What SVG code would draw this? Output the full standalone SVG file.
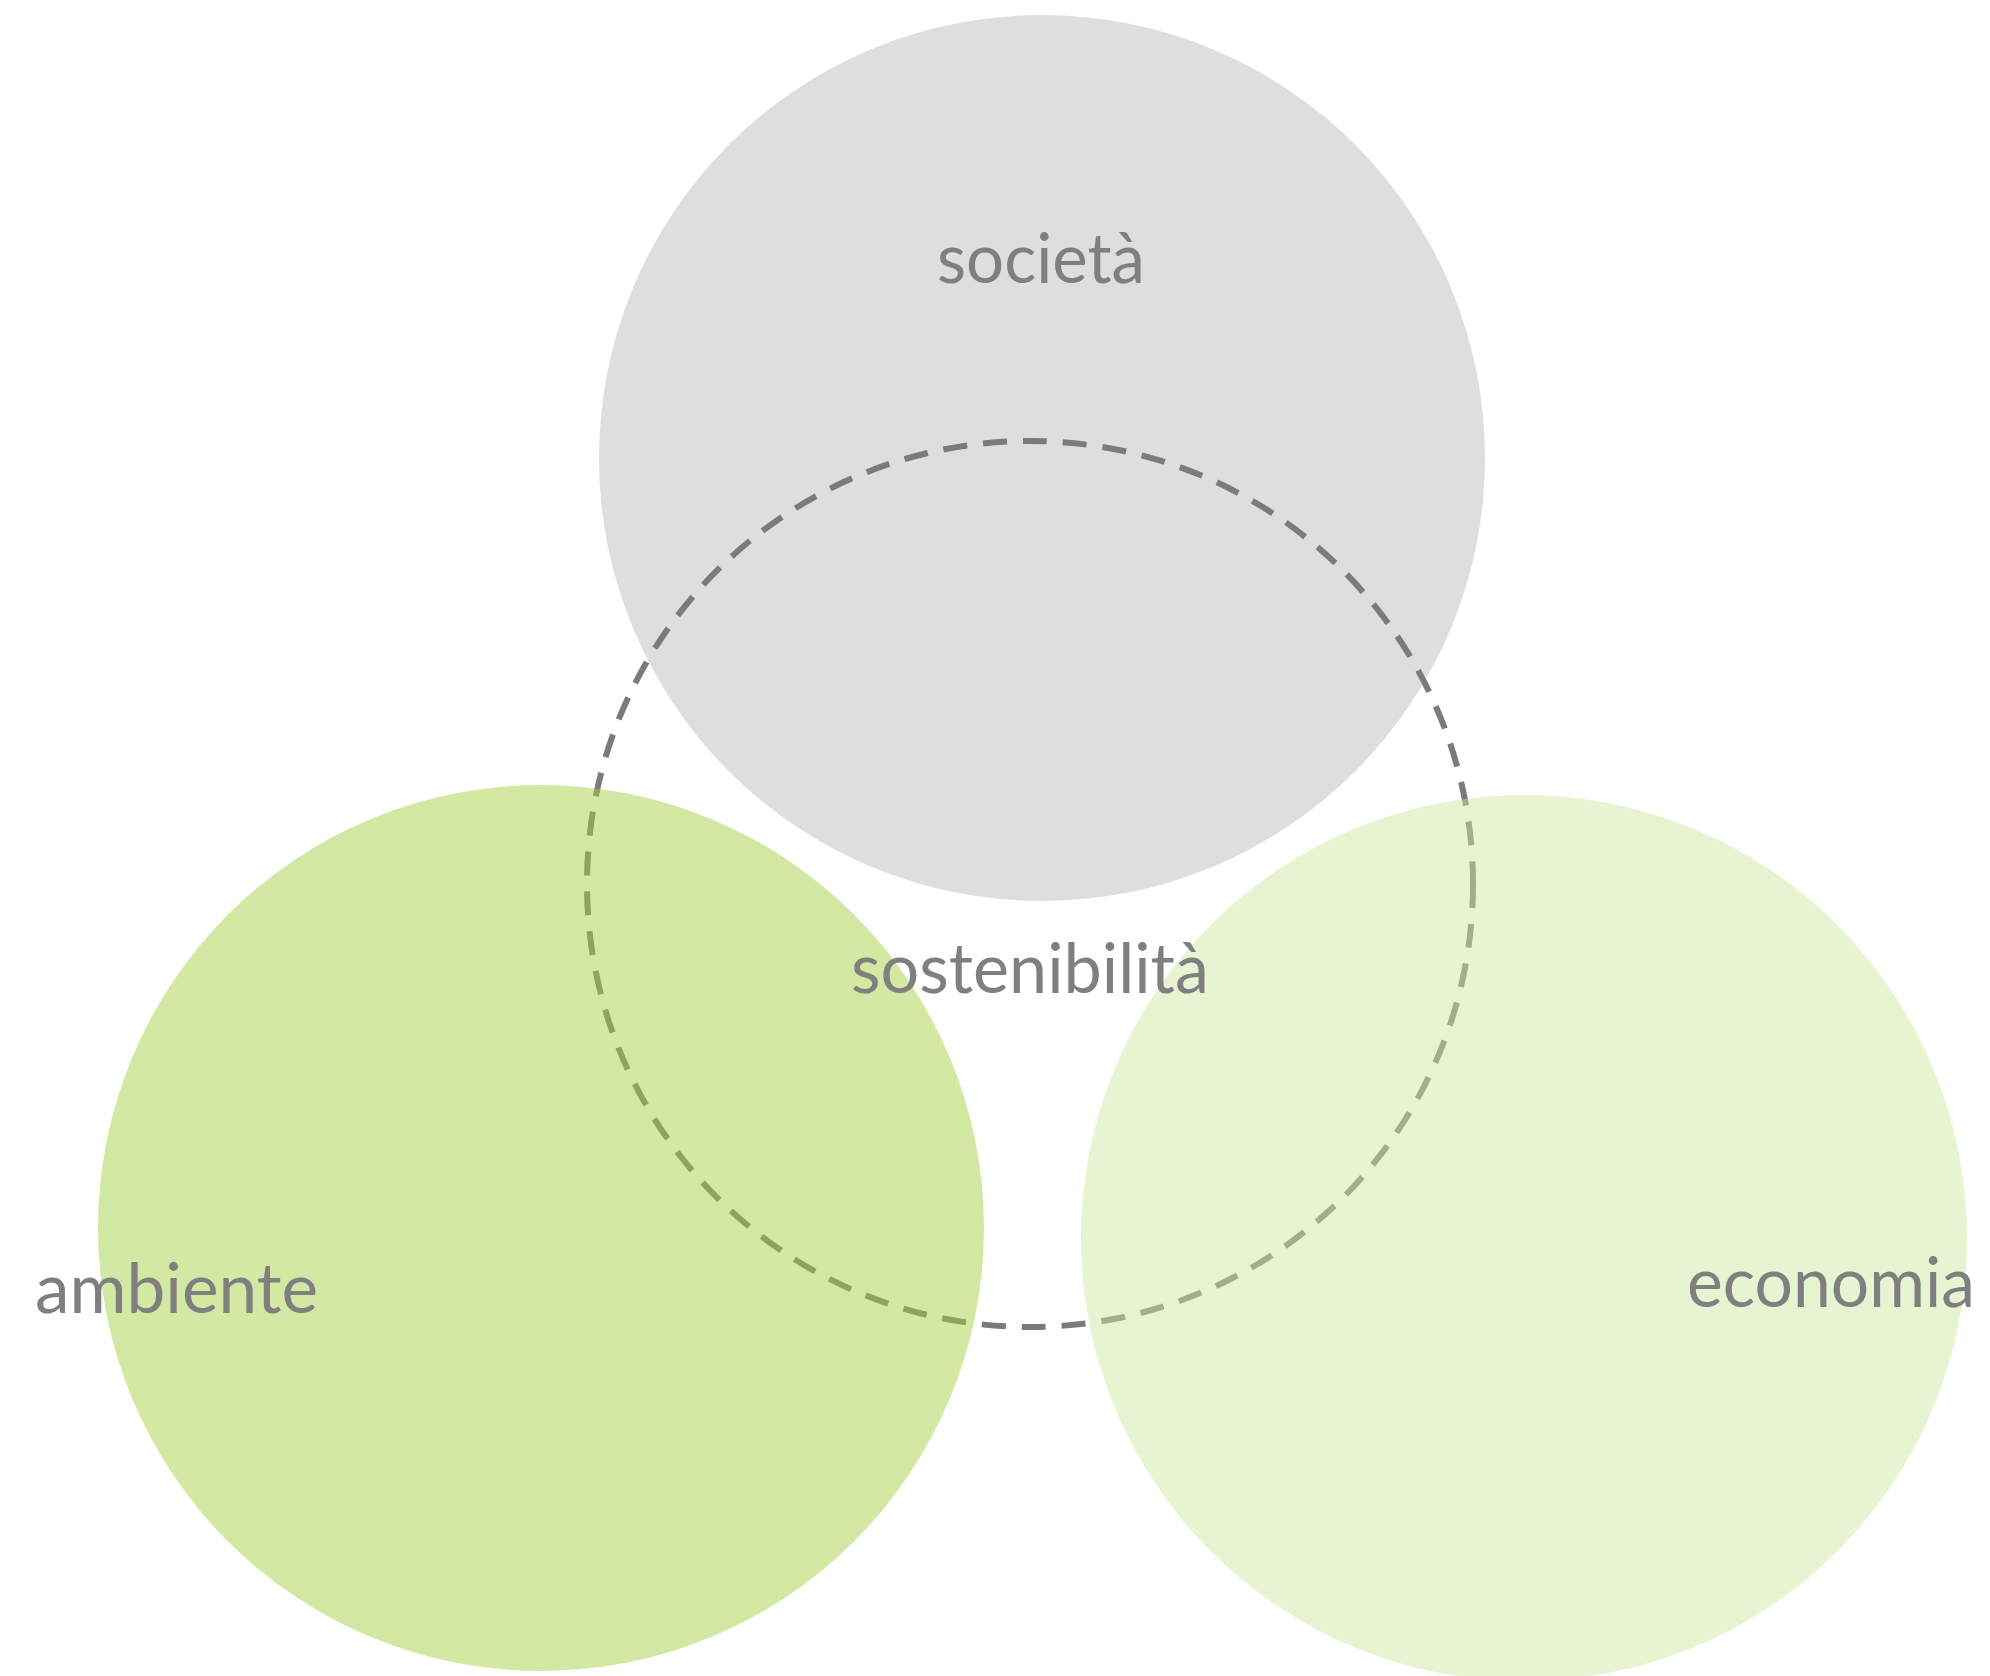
<svg xmlns="http://www.w3.org/2000/svg" width="1990" height="1676" viewBox="0 0 1990 1676">
<style>
.lbl{font-family:Lato,"Open Sans","Liberation Sans",sans-serif;font-size:70px;fill:#7f7f7f}
.dash{fill:none;stroke:#7a7b7b;stroke-width:6;stroke-dasharray:24 16}
</style>
<rect width="1990" height="1676" fill="#ffffff"/>
<g id="societa">
<circle cx="1042" cy="458" r="443" fill="#dddfde"/>
</g>
<g id="connectors">
<circle id="sostenibilita-ring" class="dash" cx="1030" cy="884" r="443"/>
</g>
<g id="ambiente">
<circle cx="541" cy="1228" r="443" fill="#a3cf3f" fill-opacity="0.48"/>
</g>
<g id="economia">
<circle cx="1524" cy="1238" r="443" fill="#cde69f" fill-opacity="0.48"/>
</g>
<g id="labels">
<text class="lbl" x="937" y="283" textLength="208" lengthAdjust="spacingAndGlyphs">società</text>
<text id="sostenibilita" class="lbl" x="851" y="993" textLength="358" lengthAdjust="spacingAndGlyphs">sostenibilità</text>
<text class="lbl" x="35" y="1313" textLength="283" lengthAdjust="spacingAndGlyphs">ambiente</text>
<text class="lbl" x="1687" y="1307" textLength="288" lengthAdjust="spacingAndGlyphs">economia</text>
</g>
</svg>
